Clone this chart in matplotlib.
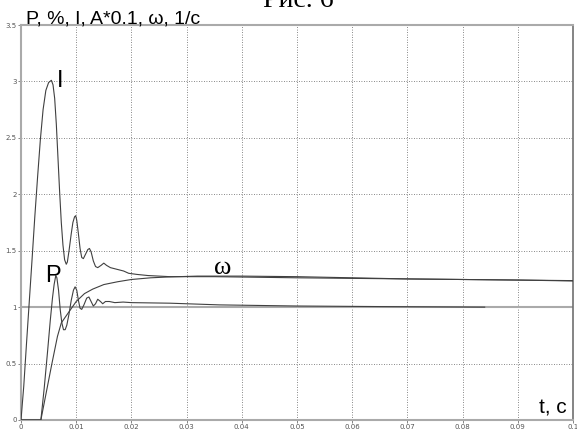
import matplotlib
matplotlib.use("Agg")
import matplotlib.pyplot as plt

# ---- data ----
t_I = [0, 0.0005, 0.001, 0.0015, 0.002, 0.0025, 0.003, 0.0035, 0.0040, 0.0045,
       0.0050, 0.0055, 0.0058, 0.0061, 0.0064, 0.0067, 0.0070, 0.0073, 0.0076,
       0.0079, 0.0082, 0.0084, 0.0087, 0.0091, 0.0094, 0.0097, 0.0099, 0.0101,
       0.0104, 0.0107, 0.0110, 0.0113, 0.0117, 0.0121, 0.0124, 0.0127, 0.0131,
       0.0135, 0.0139, 0.0145, 0.0150, 0.0155, 0.0162, 0.0170, 0.0178, 0.0186,
       0.0195, 0.0210, 0.0230, 0.0270, 0.035, 0.05, 0.07, 0.1]
v_I = [0, 0.30, 0.68, 1.05, 1.42, 1.80, 2.15, 2.48, 2.75, 2.92,
       2.99, 3.01, 2.97, 2.85, 2.62, 2.32, 2.02, 1.75, 1.55,
       1.42, 1.38, 1.40, 1.50, 1.65, 1.75, 1.80, 1.81, 1.77,
       1.65, 1.52, 1.44, 1.43, 1.47, 1.51, 1.52, 1.49, 1.41,
       1.36, 1.35, 1.37, 1.39, 1.37, 1.35, 1.34, 1.33, 1.32,
       1.30, 1.29, 1.28, 1.27, 1.27, 1.26, 1.25, 1.235]

t_P = [0, 0.0036, 0.0042, 0.0048, 0.0053, 0.0057, 0.0060, 0.0063, 0.0065,
       0.0068, 0.0071, 0.0074, 0.0077, 0.0080, 0.0083, 0.0087, 0.0091, 0.0095,
       0.0098, 0.0101, 0.0104, 0.0107, 0.0110, 0.0114, 0.0119, 0.0123, 0.0127,
       0.0131, 0.0135, 0.0139, 0.0144, 0.0148, 0.0153, 0.0160, 0.0170, 0.0185,
       0.020, 0.027, 0.036, 0.05, 0.065, 0.084]
v_P = [0, 0, 0.28, 0.60, 0.88, 1.08, 1.20, 1.28, 1.26,
       1.15, 0.98, 0.86, 0.80, 0.80, 0.84, 0.94, 1.06, 1.15,
       1.18, 1.15, 1.06, 0.99, 0.98, 1.02, 1.08, 1.09, 1.05,
       1.01, 1.03, 1.07, 1.05, 1.03, 1.05, 1.05, 1.04, 1.045,
       1.04, 1.035, 1.02, 1.01, 1.005, 1.0]

t_W = [0, 0.0036, 0.0046, 0.0056, 0.0066, 0.0073, 0.0080, 0.0090, 0.0100,
       0.0115, 0.0130, 0.015, 0.0175, 0.020, 0.0235, 0.027, 0.032, 0.04,
       0.05, 0.06, 0.07, 0.08, 0.09, 0.1]
v_W = [0, 0, 0.25, 0.50, 0.74, 0.86, 0.91, 0.98, 1.05,
       1.12, 1.16, 1.20, 1.225, 1.245, 1.26, 1.268, 1.275, 1.275,
       1.27, 1.26, 1.25, 1.245, 1.24, 1.232]

x_ticks = [0, 0.01, 0.02, 0.03, 0.04, 0.05, 0.06, 0.07, 0.08, 0.09, 0.1]
x_tick_labels = ["0", "0.01", "0.02", "0.03", "0.04", "0.05", "0.06", "0.07", "0.08", "0.09", "0.1"]
y_ticks = [0, 0.5, 1, 1.5, 2, 2.5, 3, 3.5]
y_tick_labels = ["0", "0.5", "1", "1.5", "2", "2.5", "3", "3.5"]
ref_level = 1.0

fig = plt.figure(figsize=(5.77, 4.32), dpi=100)
fig.patch.set_facecolor("white")
ax = fig.add_axes([21 / 577, 12 / 432, 552 / 577, 395 / 432])

ax.set_xlim(0, 0.1)
ax.set_ylim(0, 3.5)
ax.set_xticks(x_ticks)
ax.set_xticklabels(x_tick_labels)
ax.set_yticks(y_ticks)
ax.set_yticklabels(y_tick_labels)
ax.tick_params(axis="both", labelsize=5, colors="#555555", length=2, width=0.5, pad=1)

ax.grid(True, color="#606060", linestyle=(0, (1, 2)), linewidth=0.6)
ax.set_axisbelow(True)

for side in ["left", "bottom", "top"]:
    ax.spines[side].set_color("#aaaaaa")
    ax.spines[side].set_linewidth(1.5)
ax.spines["right"].set_color("#707070")
ax.spines["right"].set_linewidth(1.2)

ax.axhline(ref_level, color="#aaaaaa", linewidth=1.5, zorder=2)

lc = "#404040"
ax.plot(t_I, v_I, color=lc, linewidth=0.8, zorder=3)
ax.plot(t_P, v_P, color=lc, linewidth=0.8, zorder=3)
ax.plot(t_W, v_W, color=lc, linewidth=0.8, zorder=3)

sans = ["Liberation Sans", "DejaVu Sans"]
serif = ["Liberation Serif", "DejaVu Serif"]
ax.text(0.0071, 2.95, "I", fontsize=17, family=sans, ha="center", va="baseline")
ax.text(0.0043, 1.22, "P", fontsize=17, family=sans, ha="left", va="baseline")
ax.text(0.0365, 1.29, "ω", fontsize=19, family=serif, ha="center", va="baseline")
ax.text(0.0989, 0.06, "t, c", fontsize=15, family=sans, ha="right", va="baseline")

fig.text(26 / 577, 1 - 24 / 432, "P, %, I, A*0.1, ω, 1/c", fontsize=14, family=sans,
         ha="left", va="baseline")
fig.text(298 / 577, 1 - 7 / 432, "Рис. 6", fontsize=20, family=serif,
         ha="center", va="baseline")

fig.savefig("out.png", dpi=100)
